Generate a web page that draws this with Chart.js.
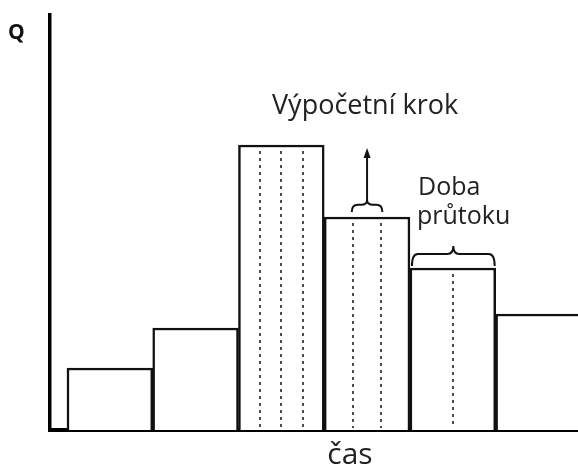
<!DOCTYPE html>
<html>
<head>
<meta charset="utf-8">
<script src="https://cdn.jsdelivr.net/npm/chart.js@4/dist/chart.umd.min.js"></script>
<style>
  html, body { margin: 0; padding: 0; background: #fff; }
</style>
</head>
<body>
<canvas id="chart" width="578" height="469"></canvas>
<script>
// time steps (bar index) and discharge Q per step
const timeSteps = [0, 1, 2, 3, 4, 5];
const flowQ = [62, 102, 285, 213, 162, 116];
// number of computational sub-steps inside each time step
const subSteps = [1, 1, 4, 3, 2, 1];

const axisTitleY = 'Q';
const axisTitleX = 'čas';
const stepLabel = 'Výpočetní krok';
const flowTimeLabel = ['Doba', 'průtoku'];

const font = '"Open Sans", "Liberation Sans", sans-serif';

function drawBrace(ctx, x1, x2, yBottom, h) {
  const xc = (x1 + x2) / 2;
  const yMid = yBottom - h * 0.6;
  const yTop = yBottom - h;
  const r = Math.min(6, (x2 - x1) / 4);
  ctx.beginPath();
  ctx.moveTo(x1, yBottom);
  ctx.quadraticCurveTo(x1, yMid, x1 + r, yMid);
  ctx.lineTo(xc - r, yMid);
  ctx.quadraticCurveTo(xc, yMid, xc, yTop);
  ctx.quadraticCurveTo(xc, yMid, xc + r, yMid);
  ctx.lineTo(x2 - r, yMid);
  ctx.quadraticCurveTo(x2, yMid, x2, yBottom);
  ctx.stroke();
}

const annotations = {
  id: 'annotations',
  afterDatasetsDraw(chart) {
    const { ctx, scales: { x, y } } = chart;
    const y0 = y.getPixelForValue(0);
    ctx.save();

    // dashed sub-step lines
    ctx.strokeStyle = '#222';
    ctx.lineWidth = 1.6;
    ctx.setLineDash([3, 4]);
    timeSteps.forEach((t, i) => {
      const n = subSteps[i];
      for (let k = 1; k < n; k++) {
        const px = Math.round(x.getPixelForValue(t - 0.5 + k / n));
        ctx.beginPath();
        ctx.moveTo(px, y.getPixelForValue(flowQ[i]) + 6);
        ctx.lineTo(px, y0 - 2);
        ctx.stroke();
      }
    });
    ctx.setLineDash([]);

    // brace + arrow over one sub-step of bar 4
    ctx.strokeStyle = '#111';
    ctx.lineWidth = 2;
    const b1 = 3, n1 = subSteps[b1];
    const bx1 = x.getPixelForValue(b1 - 0.5 + 1 / n1);
    const bx2 = x.getPixelForValue(b1 - 0.5 + 2 / n1);
    const by = y.getPixelForValue(flowQ[b1]) - 5;
    drawBrace(ctx, bx1 - 1, bx2 + 1, by, 12);
    const ax = (bx1 + bx2) / 2;
    ctx.beginPath();
    ctx.moveTo(ax, by - 12);
    ctx.lineTo(ax, by - 56);
    ctx.stroke();
    ctx.fillStyle = '#111';
    ctx.beginPath();
    ctx.moveTo(ax, by - 64);
    ctx.lineTo(ax - 3.5, by - 54);
    ctx.lineTo(ax + 3.5, by - 54);
    ctx.closePath();
    ctx.fill();

    // brace over bar 5
    const b2 = 4;
    const cx1 = x.getPixelForValue(b2 - 0.5);
    const cx2 = x.getPixelForValue(b2 + 0.5);
    const cy = y.getPixelForValue(flowQ[b2]) - 2;
    drawBrace(ctx, cx1 + 2, cx2 - 1, cy, 20);

    // texts
    ctx.fillStyle = '#222';
    ctx.textBaseline = 'alphabetic';
    ctx.font = '27px ' + font;
    ctx.textAlign = 'center';
    ctx.fillText(stepLabel, ax - 2, 114);
    ctx.font = '25px ' + font;
    ctx.textAlign = 'left';
    ctx.fillText(flowTimeLabel[0], 418, 195);
    ctx.fillText(flowTimeLabel[1], 417, 224);

    ctx.font = 'bold 21px ' + font;
    ctx.fillStyle = '#111';
    ctx.fillText(axisTitleY, 8, 39);

    ctx.font = '30px ' + font;
    ctx.fillStyle = '#222';
    ctx.textAlign = 'center';
    ctx.fillText(axisTitleX, 350, 464);
    ctx.restore();
  }
};

new Chart(document.getElementById('chart'), {
  type: 'bar',
  data: {
    datasets: [{
      data: timeSteps.map((t, i) => ({ x: t, y: flowQ[i] })),
      backgroundColor: '#fff',
      borderColor: '#111',
      borderWidth: 2.5,
      borderSkipped: 'bottom',
      barPercentage: 1,
      categoryPercentage: 1
    }]
  },
  options: {
    responsive: false,
    animation: false,
    layout: { padding: { left: 50, top: 15, right: 0, bottom: 39 } },
    plugins: { legend: { display: false }, tooltip: { enabled: false } },
    scales: {
      x: {
        type: 'linear',
        offset: false,
        min: -0.698,
        max: 5.46,
        grid: { display: false, drawTicks: false, tickLength: 0 },
        ticks: { display: false },
        border: { display: true, color: '#000', width: 4 }
      },
      y: {
        min: 0,
        max: 415,
        grid: { display: false, drawTicks: false, tickLength: 0 },
        ticks: { display: false },
        border: { display: true, color: '#000', width: 3.5 }
      }
    }
  },
  plugins: [annotations]
});
</script>
</body>
</html>
